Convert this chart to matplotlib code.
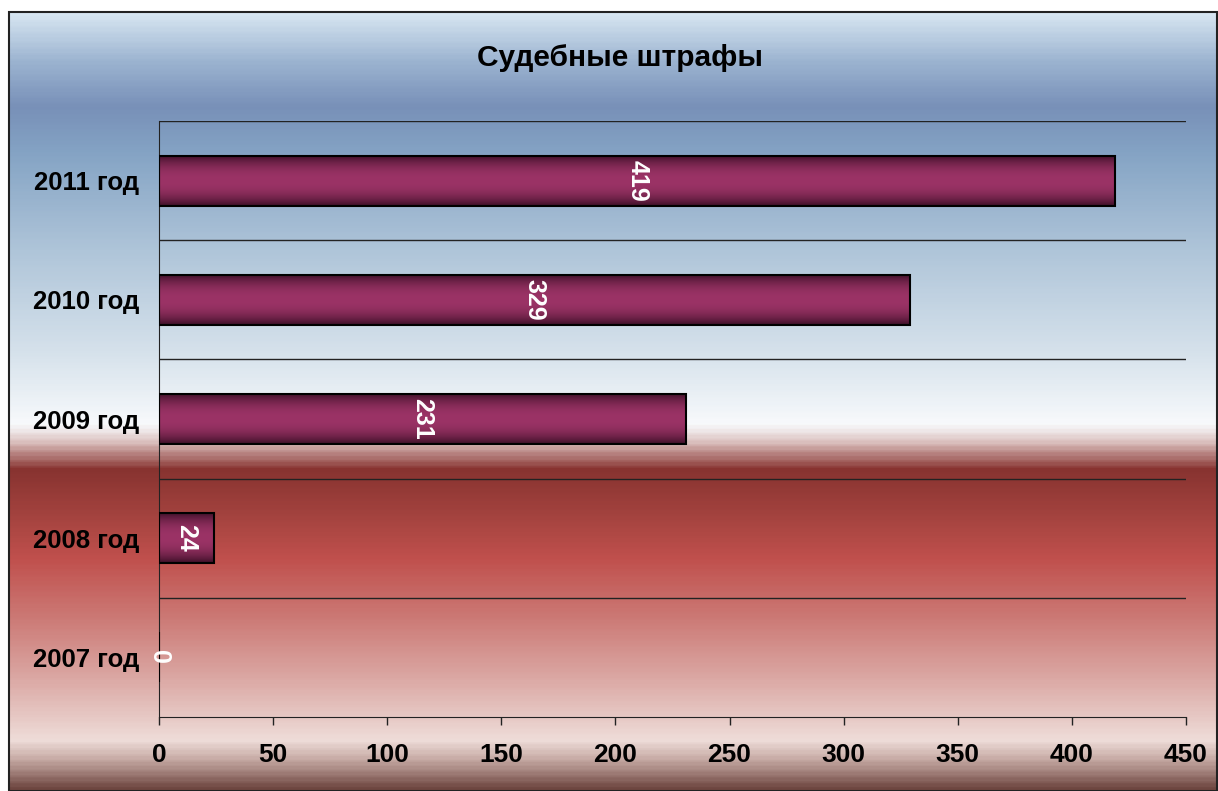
import numpy as np
import matplotlib
matplotlib.use("Agg")
import matplotlib.pyplot as plt
from matplotlib.colors import LinearSegmentedColormap, to_rgb
from matplotlib.patches import Rectangle

# Данные
categories = ["2007 год", "2008 год", "2009 год", "2010 год", "2011 год"]
values = [0, 24, 231, 329, 419]
x_ticks = [0, 50, 100, 150, 200, 250, 300, 350, 400, 450]
title = "Судебные штрафы"

plt.rcParams["font.family"] = ["Liberation Sans", "DejaVu Sans"]
plt.rcParams["font.weight"] = "bold"

W, H = 1218, 791
fig = plt.figure(figsize=(W / 100, H / 100), dpi=100)
fig.patch.set_facecolor("white")

# Фон: вертикальный градиент (позиция в пикселях сверху, цвет)
bg_stops = [
    (12, "#d6e5f1"), (60, "#9bb3d0"), (105, "#7890b8"), (150, "#84a3c4"),
    (250, "#afc5d9"), (350, "#d5e1eb"), (425, "#f8fafc"), (442, "#dcc2c0"),
    (470, "#883330"), (520, "#a64440"), (560, "#c0504d"), (620, "#cc7a76"),
    (680, "#dba8a4"), (742, "#eedcd8"), (762, "#c6aaa4"), (791, "#6e4640"),
]
y0, y1 = bg_stops[0][0], bg_stops[-1][0]
bg_cmap = LinearSegmentedColormap.from_list(
    "bg", [((p - y0) / (y1 - y0), c) for p, c in bg_stops])
bx0, bx1, by0 = 9, 1217, 12
ax_bg = fig.add_axes([bx0 / W, 0, (bx1 - bx0) / W, (H - by0) / H])
ax_bg.imshow(np.linspace(0, 1, 400).reshape(-1, 1), cmap=bg_cmap,
             aspect="auto", extent=(0, 1, 0, 1), origin="upper")
ax_bg.set_xlim(0, 1)
ax_bg.set_ylim(0, 1)
ax_bg.axis("off")
ax_bg.add_patch(Rectangle((0, 0), 1, 1, transform=ax_bg.transAxes, fill=False,
                          edgecolor="#222222", lw=1.5, clip_on=False))

# Область графика
left, right, top, bottom = 159, 1186, 121, 717
ax = fig.add_axes([left / W, (H - bottom) / H, (right - left) / W, (bottom - top) / H])
ax.set_facecolor("none")

# Градиент столбцов
dark = np.array(to_rgb("#3e1028"))
mid = np.array(to_rgb("#9b3366"))
t = np.linspace(-1, 1, 60)
wgt = np.clip(np.abs(t) ** 2.2, 0, 1)[:, None]
bar_img = (mid * (1 - wgt) + dark * wgt).reshape(-1, 1, 3)

bar_h = 0.42
ypos = np.arange(len(categories))
for y, v in zip(ypos, values):
    if v > 0:
        ax.imshow(bar_img, aspect="auto", extent=(0, v, y - bar_h / 2, y + bar_h / 2),
                  origin="upper", zorder=2)
ax.barh(ypos, values, height=bar_h, fill=False, edgecolor="black", lw=1.5, zorder=3)
ax.set_xlim(0, 450)
ax.set_ylim(-0.5, len(categories) - 0.5)

for y, v in zip(ypos, values):
    ax.text(v / 2, y, str(v), rotation=270, ha="center", va="center",
            color="white", fontsize=18, fontweight="bold", zorder=4)

# Линии сетки между категориями
for g in np.arange(0.5, len(categories), 1.0):
    ax.axhline(g, color="#222222", lw=1.0, zorder=1)

for s in ["top", "right"]:
    ax.spines[s].set_visible(False)
ax.spines["left"].set_color("#222222")
ax.spines["bottom"].set_color("#222222")

ax.set_yticks(ypos)
ax.set_yticklabels(categories)
ax.set_xticks(x_ticks)
ax.tick_params(axis="y", length=0, pad=14, labelsize=18.5)
ax.tick_params(axis="x", length=6, width=1, color="#222222", pad=13, labelsize=19)
for lab in ax.get_xticklabels() + ax.get_yticklabels():
    lab.set_fontweight("bold")

fig.text(620 / W, 1 - 58 / H, title, ha="center", va="center",
         fontsize=21.5, fontweight="bold")

fig.savefig("out.png", dpi=100)
